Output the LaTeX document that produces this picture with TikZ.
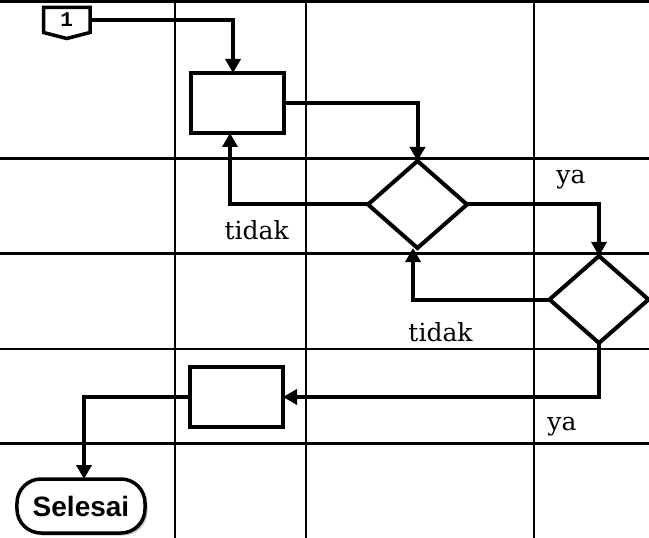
\documentclass[tikz,border=0pt]{standalone}
\usepackage{fontspec}
\usetikzlibrary{arrows.meta,shapes.geometric}
\newfontfamily\labelfont{DejaVu Serif}
\newfontfamily\termfont{Liberation Sans}
\newfontfamily\connfont{Liberation Mono}
\begin{document}
\begin{tikzpicture}[x=1bp,y=-1bp,
  gridline/.style={line width=2.2bp},
  flow/.style={line width=4bp, -{Triangle[length=14bp,width=15bp]}},
  procbox/.style={draw, line width=4bp, fill=white, minimum width=93bp,
    minimum height=60bp, inner sep=0, outer sep=0},
  decision/.style={draw, diamond, line width=4bp, fill=white,
    minimum width=99bp, minimum height=87bp, inner sep=0, outer sep=0},
  lbl/.style={font=\labelfont\fontsize{25bp}{29bp}\selectfont, anchor=base, inner sep=0},
  terminal/.style={draw, line width=3.5bp, rounded corners=24bp, fill=white,
    minimum width=128bp, minimum height=54bp, inner sep=0, outer sep=0,
    font=\termfont\bfseries\fontsize{28bp}{32bp}\selectfont},
  offpage/.style={minimum width=46.5bp, minimum height=25bp, inner sep=0, outer sep=0,
    font=\connfont\bfseries\fontsize{21bp}{24bp}\selectfont}
]
\useasboundingbox (0,0) rectangle (649,538);

% swimlane grid
\draw[line width=3bp] (0,1.5) -- (649,1.5);
\foreach \yy in {158.5,253.5,349,443.5} \draw[gridline] (0,\yy) -- (649,\yy);
\foreach \xx in {175,306,534} \draw[gridline] (\xx,0) -- (\xx,538);

% shafts of the vertical arrow segments
\coordinate (xa) at (233,0);
\coordinate (xb) at (230,0);
\coordinate (xc) at (413,0);
\coordinate (xd) at (84,0);

% off-page connector
\node[offpage] (c1) at (66.75,20) {};
\draw[line width=3.5bp, line join=miter, fill=white]
  (c1.north west) -- (c1.north east) -- (c1.south east)
  -- ([yshift=-6bp]c1.south) -- (c1.south west) -- cycle;
\node[offpage] at (c1.center) {1};

% process steps and decisions
\node[procbox] (b1) at (237.5,103) {};
\node[decision] (d1) at (417.5,204.5) {};
\node[decision] (d2) at (599,299.5) {};
\node[procbox] (b2) at (236.5,397) {};
\fill[gray!45, rounded corners=24bp] (19.5,481.5) rectangle (147.5,535.5);
\node[terminal] (s) at (81,506) {Selesai};

% connectors
\draw[flow] (c1.east) -| (b1.north -| xa);
\draw[flow] (b1.east) -| (d1.north);
\draw[flow] (d1.west) -| (b1.south -| xb);
\draw[flow] (d1.east) -| (d2.north);
\draw[flow] (d2.west) -| (d1.south -| xc);
\draw[flow] (d2.south) |- (b2.east);
\draw[flow] (b2.west) -| (s.north -| xd);

% branch labels
\node[lbl] (t1) at (256.7,240) {tidak};
\node[lbl] (y1) at (571,183.3) {ya};
\node[lbl] (t2) at (440.5,341.7) {tidak};
\node[lbl] (y2) at (562,430) {ya};
\end{tikzpicture}
\end{document}
